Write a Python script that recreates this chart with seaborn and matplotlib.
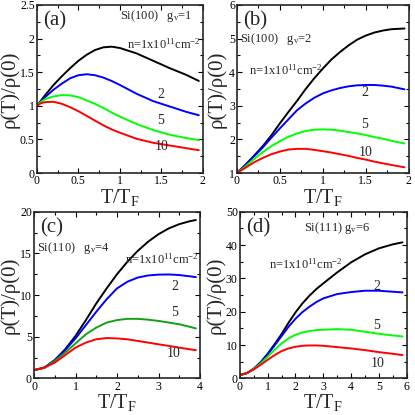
import numpy as np
import pandas as pd
import matplotlib
matplotlib.use("Agg")
import matplotlib.pyplot as plt
import seaborn as sns
from matplotlib.ticker import AutoMinorLocator, FuncFormatter

sns.set_style("ticks")
plt.rcParams["font.family"] = ["Liberation Serif", "DejaVu Serif"]
plt.rcParams["mathtext.fontset"] = "custom"
plt.rcParams["mathtext.rm"] = "Liberation Serif"
plt.rcParams["mathtext.it"] = "Liberation Serif:italic"

# data
densities = ["1", "2", "5", "10"]

# (a) Si(100), gv=1
x_a = [0, 0.05, 0.1, 0.2, 0.3, 0.4, 0.5, 0.6, 0.7, 0.8, 0.9, 1.0, 1.2, 1.4, 1.6, 1.8, 1.95]
a_n1 = [1.0, 1.08, 1.16, 1.31, 1.44, 1.56, 1.67, 1.76, 1.83, 1.87, 1.88, 1.86, 1.78, 1.67, 1.56, 1.46, 1.37]
a_n2 = [1.0, 1.07, 1.13, 1.24, 1.33, 1.41, 1.455, 1.47, 1.455, 1.42, 1.37, 1.31, 1.18, 1.07, 0.99, 0.91, 0.86]
a_n5 = [1.0, 1.06, 1.10, 1.14, 1.16, 1.155, 1.13, 1.08, 1.03, 0.97, 0.90, 0.84, 0.73, 0.64, 0.57, 0.52, 0.49]
a_n10 = [1.0, 1.04, 1.055, 1.06, 1.03, 0.98, 0.92, 0.85, 0.78, 0.71, 0.65, 0.60, 0.51, 0.45, 0.41, 0.37, 0.34]

# (b) Si(100), gv=2
x_b = [0, 0.1, 0.2, 0.3, 0.4, 0.5, 0.6, 0.7, 0.8, 0.9, 1.0, 1.1, 1.2, 1.3, 1.4, 1.5, 1.6, 1.7, 1.8, 1.95]
b_n1 = [1.0, 1.25, 1.52, 1.8, 2.12, 2.48, 2.82, 3.15, 3.5, 3.82, 4.11, 4.38, 4.6, 4.8, 4.97, 5.09, 5.18, 5.24, 5.28, 5.3]
b_n2 = [1.0, 1.24, 1.5, 1.76, 2.05, 2.33, 2.6, 2.87, 3.07, 3.24, 3.37, 3.46, 3.53, 3.58, 3.61, 3.62, 3.62, 3.6, 3.57, 3.49]
b_n5 = [1.0, 1.2, 1.42, 1.62, 1.8, 1.95, 2.08, 2.18, 2.25, 2.29, 2.3, 2.29, 2.26, 2.22, 2.18, 2.13, 2.07, 2.02, 1.96, 1.88]
b_n10 = [1.0, 1.16, 1.32, 1.45, 1.56, 1.64, 1.7, 1.72, 1.72, 1.69, 1.65, 1.61, 1.56, 1.51, 1.45, 1.4, 1.34, 1.29, 1.24, 1.17]

# (c) Si(110), gv=4
x_c = [0, 0.25, 0.5, 0.75, 1.0, 1.25, 1.5, 1.75, 2.0, 2.25, 2.5, 2.75, 3.0, 3.25, 3.5, 3.75, 3.9]
c_n1 = [1, 1.3, 2.2, 3.5, 5.1, 7.0, 9.0, 10.8, 12.5, 14.0, 15.3, 16.4, 17.3, 18.0, 18.5, 18.85, 19.0]
c_n2 = [1, 1.3, 2.2, 3.4, 4.8, 6.4, 8.0, 9.5, 10.8, 11.6, 12.1, 12.35, 12.45, 12.47, 12.4, 12.25, 12.15]
c_n5 = [1, 1.3, 2.1, 3.1, 4.2, 5.3, 6.1, 6.7, 7.0, 7.15, 7.15, 7.05, 6.9, 6.7, 6.5, 6.2, 6.0]
c_n10 = [1, 1.3, 1.9, 2.8, 3.7, 4.3, 4.7, 4.85, 4.8, 4.7, 4.5, 4.3, 4.1, 3.9, 3.7, 3.5, 3.4]

# (d) Si(111), gv=6
x_d = [0, 0.25, 0.5, 0.75, 1.0, 1.25, 1.5, 1.75, 2.0, 2.25, 2.5, 2.75, 3.0, 3.5, 4.0, 4.5, 5.0, 5.5, 5.85]
d_n1 = [1, 1.6, 2.9, 4.9, 7.4, 10.3, 13.3, 16.7, 19.8, 22.5, 24.8, 26.8, 28.5, 31.8, 34.8, 37.2, 39.0, 40.2, 40.8]
d_n2 = [1, 1.6, 2.9, 4.8, 7.2, 9.9, 12.7, 15.5, 17.9, 19.9, 21.5, 22.9, 24.0, 25.3, 25.9, 26.3, 26.3, 26.0, 25.8]
d_n5 = [1, 1.6, 2.8, 4.5, 6.5, 8.6, 10.5, 12.0, 13.1, 13.8, 14.2, 14.5, 14.6, 14.8, 14.6, 14.0, 13.4, 12.9, 12.6]
d_n10 = [1, 1.6, 2.7, 4.1, 5.6, 7.0, 8.2, 9.0, 9.5, 9.8, 9.9, 9.9, 9.8, 9.4, 9.0, 8.5, 7.9, 7.4, 7.0]

panels = [
    dict(tag="(a)", x=x_a, ys=[a_n1, a_n2, a_n5, a_n10], xlim=(0, 2), ylim=(0, 2.5),
         xstep=0.5, ystep=0.5, rect=[0.089, 0.583, 0.400, 0.405],
         ylab_x=-0.165, xlab_y=-0.085,
         title=r"Si(100)   g$_\mathregular{v}$=1", title_xy=(1.0, 2.33),
         nlab_xy=(1.08, 1.91), num_xy=[(1.45, 1.17), (1.45, 0.78), (1.42, 0.40)],
         green="#00ff00"),
    dict(tag="(b)", x=x_b, ys=[b_n1, b_n2, b_n5, b_n10], xlim=(0, 2), ylim=(1, 6),
         xstep=0.5, ystep=1, rect=[0.571, 0.583, 0.414, 0.405],
         ylab_x=-0.12, xlab_y=-0.085,
         title=r"Si(100)   g$_\mathregular{v}$=2", title_xy=(0.03, 4.98),
         nlab_xy=(0.14, 4.05), num_xy=[(1.45, 3.4), (1.45, 2.45), (1.42, 1.62)],
         green="#00ff00"),
    dict(tag="(c)", x=x_c, ys=[c_n1, c_n2, c_n5, c_n10], xlim=(0, 4), ylim=(0, 20),
         xstep=1, ystep=5, rect=[0.082, 0.088, 0.400, 0.402],
         ylab_x=-0.145, xlab_y=-0.08,
         title=r"Si(110)   g$_\mathregular{v}$=4", title_xy=(0.06, 15.6),
         nlab_xy=(2.2, 14.3), num_xy=[(3.3, 11.0), (3.3, 7.9), (3.2, 3.0)],
         green="#14a014"),
    dict(tag="(d)", x=x_d, ys=[d_n1, d_n2, d_n5, d_n10], xlim=(0, 6), ylim=(0, 50),
         xstep=1, ystep=10, rect=[0.578, 0.088, 0.402, 0.402],
         ylab_x=-0.145, xlab_y=-0.08,
         title=r"Si(111) g$_\mathregular{v}$=6", title_xy=(2.3, 45.0),
         nlab_xy=(1.05, 34.3), num_xy=[(4.8, 27.5), (4.8, 15.8), (4.7, 4.5)],
         green="#00ff00"),
]

fig = plt.figure(figsize=(4.15, 4.15), dpi=100)

for p in panels:
    ax = fig.add_axes(p["rect"])
    rows = []
    for dens, y in zip(densities, p["ys"]):
        rows.append(pd.DataFrame({"T": p["x"], "rho": y, "n": dens}))
    df = pd.concat(rows, ignore_index=True)
    pal = {"1": "black", "2": "#0000ff", "5": p["green"], "10": "#ff0000"}
    sns.lineplot(data=df, x="T", y="rho", hue="n", palette=pal, linewidth=1.4,
                 legend=False, ax=ax)

    ax.set_xlim(*p["xlim"])
    ax.set_ylim(*p["ylim"])
    ax.set_xticks(np.arange(p["xlim"][0], p["xlim"][1] + 1e-9, p["xstep"]))
    ax.set_yticks(np.arange(p["ylim"][0], p["ylim"][1] + 1e-9, p["ystep"]))
    ax.xaxis.set_minor_locator(AutoMinorLocator(2))
    ax.yaxis.set_minor_locator(AutoMinorLocator(2))
    fmt = FuncFormatter(lambda v, pos: "%g" % v)
    ax.xaxis.set_major_formatter(fmt)
    ax.yaxis.set_major_formatter(fmt)
    ax.tick_params(which="both", direction="in", top=True, right=True,
                   labelsize=8.5, width=0.8, pad=1.5, colors="black")
    ax.tick_params(which="major", length=3.5)
    ax.tick_params(which="minor", length=2)
    for s in ax.spines.values():
        s.set_linewidth(1.2)
        s.set_visible(True)

    ax.set_xlabel(r"T/T$_\mathregular{F}$", fontsize=14.5, va="top")
    ax.set_ylabel(r"ρ(T)/ρ(0)", fontsize=15, va="center")
    ax.xaxis.set_label_coords(0.5, p["xlab_y"])
    ax.yaxis.set_label_coords(p["ylab_x"], 0.5)

    ax.text(0.035, 0.96, p["tag"], transform=ax.transAxes, fontsize=15,
            ha="left", va="top")
    ax.text(*p["title_xy"], p["title"], fontsize=9, ha="left", va="center")
    ax.text(*p["nlab_xy"], r"n=1x10$^\mathregular{11}$cm$^\mathregular{-2}$",
            fontsize=9, ha="left", va="center")
    for lab, xy in zip(densities[1:], p["num_xy"]):
        ax.text(*xy, lab, fontsize=10, ha="left", va="center")

fig.savefig("out.png", dpi=100)
